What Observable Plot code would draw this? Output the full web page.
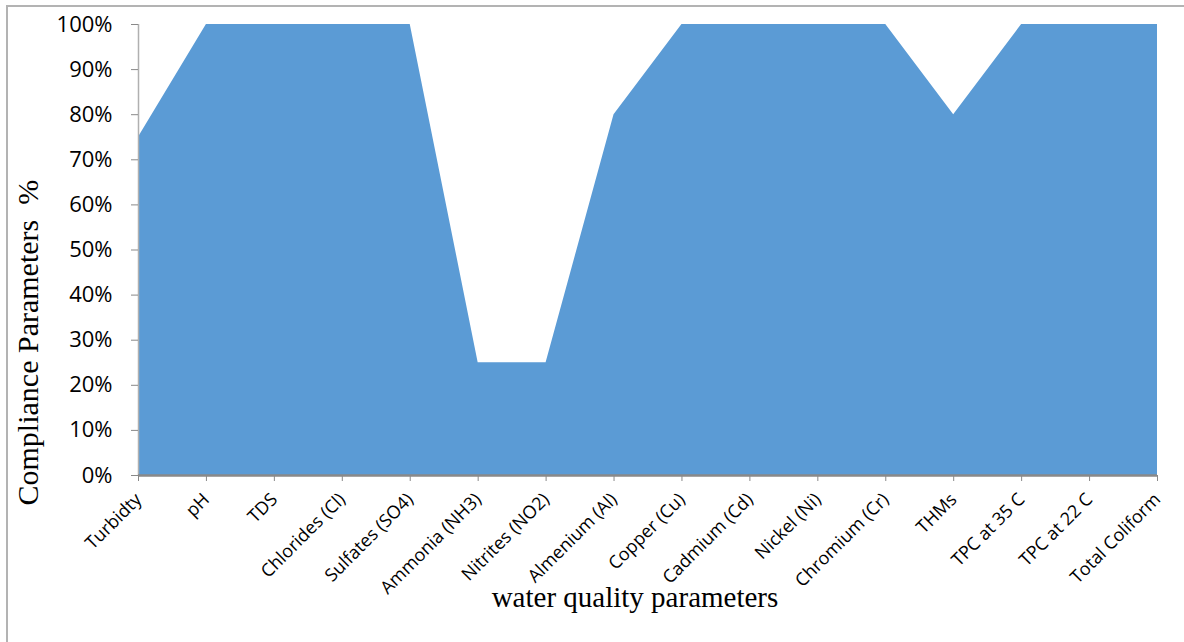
<!DOCTYPE html>
<html>
<head>
<meta charset="utf-8">
<script src="https://cdn.jsdelivr.net/npm/d3@7"></script>
<script src="https://cdn.jsdelivr.net/npm/@observablehq/plot@0.6"></script>
<style>
  html, body { margin: 0; padding: 0; background: #fff; }
  #wrap { position: relative; width: 1184px; height: 642px; overflow: hidden; }
  #frame { position: absolute; left: 6px; top: 5px; width: 1200px; height: 700px;
           border-left: 2px solid #b3b3b3; border-top: 2px solid #b3b3b3; pointer-events: none; }
  svg { position: absolute; left: 0; top: 0; }
</style>
</head>
<body>
<div id="wrap"><div id="frame"></div></div>
<script>
const categories = ["Turbidty", "pH", "TDS", "Chlorides (Cl)", "Sulfates (SO4)", "Ammonia (NH3)",
  "Nitrites (NO2)", "Almenium (Al)", "Copper (Cu)", "Cadmium (Cd)", "Nickel (Ni)", "Chromium (Cr)",
  "THMs", "TPC at 35 C", "TPC at 22 C", "Total Coliform"];
const compliance = [75, 100, 100, 100, 100, 25, 25, 80, 100, 100, 100, 100, 80, 100, 100, 100];
const yTicks = [0, 10, 20, 30, 40, 50, 60, 70, 80, 90, 100];
const yLabel = "Compliance Parameters  %";
const xLabel = "water quality parameters";

const data = categories.map((c, i) => ({name: c, value: compliance[i]}));

const chart = Plot.plot({
  width: 1184,
  height: 642,
  marginLeft: 138,
  marginRight: 27,
  marginTop: 24,
  marginBottom: 167,
  style: {background: "transparent", color: "#000", overflow: "visible"},
  x: {type: "point", domain: categories, padding: 0, round: false},
  y: {domain: [0, 100]},
  marks: [
    Plot.areaY(data, {x: "name", y: "value", fill: "#5B9BD5", curve: "linear"}),
    Plot.ruleX([categories[0]], {y1: 0, y2: 100, stroke: "#b0b0b0", strokeWidth: 1.5}),
    Plot.axisY({ticks: yTicks, tickFormat: d => d + "%", tickSize: 7, tickPadding: 19,
      fontSize: 22, fontFamily: "Open Sans", label: null, stroke: "#898989"}),
    Plot.axisX({tickRotate: -45, tickSize: 6, tickPadding: 15, fontSize: 18,
      fontFamily: "Open Sans", label: null, stroke: "#898989"}),
    Plot.ruleY([0], {stroke: "#898989", strokeWidth: 2.5}),
    Plot.text([yLabel], {frameAnchor: "bottom-left", rotate: -90, textAnchor: "start",
      dx: -101, dy: 30, fontSize: 30, fontFamily: "Liberation Serif", fill: "#000"}),
    Plot.text([xLabel], {frameAnchor: "bottom", dx: -13, dy: 131, fontSize: 29,
      fontFamily: "Liberation Serif", fill: "#000"})
  ]
});
document.getElementById("wrap").prepend(chart);
</script>
</body>
</html>
